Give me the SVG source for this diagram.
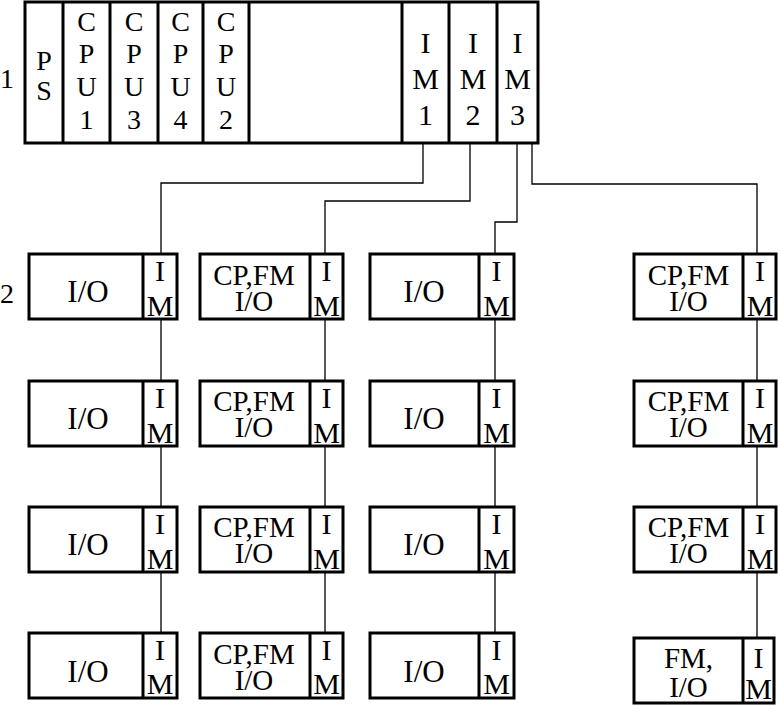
<svg xmlns="http://www.w3.org/2000/svg" width="778" height="706" viewBox="0 0 778 706">
<style>
.box{fill:#fff;stroke:#000;stroke-width:3}
.div{stroke:#000;stroke-width:3}
.con{fill:none;stroke:#000;stroke-width:1.3}
text{font-family:"Liberation Serif","Times New Roman",serif;fill:#000;text-anchor:middle}
.t{font-size:28px}
.m{font-size:30px}
.io{font-size:31px}
.cp{font-size:29px}
.lbl{font-size:28px;text-anchor:start}
</style>
<rect width="778" height="706" fill="#fff"/>
<text class="lbl" x="0" y="88">1</text>
<text class="lbl" x="0" y="303">2</text>

<g id="connectors">
<path class="con" d="M423,143 V183 H161 V254"/>
<path class="con" d="M470,143 V201 H325 V254"/>
<path class="con" d="M517,143 V222 H495 V254"/>
<path class="con" d="M532,143 V184 H757 V254"/>
<path class="con" d="M161,319 V381 M161,446 V507 M161,572 V633"/>
<path class="con" d="M325,319 V381 M325,446 V507 M325,572 V633"/>
<path class="con" d="M495,319 V381 M495,446 V507 M495,572 V633"/>
<path class="con" d="M757,319 V381 M757,446 V507 M757,572 V638"/>
</g>

<g id="rack">
<rect class="box" x="25" y="2" width="513" height="141"/>
<path class="div" d="M63,2V143M110,2V143M158,2V143M203,2V143M249,2V143M402,2V143M449,2V143M497,2V143"/>
<g id="ps" class="t"><text x="44" y="70">P</text><text x="44" y="100">S</text></g>
<g id="cpu1" class="t"><text x="86.5" y="31">C</text><text x="86.5" y="63">P</text><text x="86.5" y="96">U</text><text x="86.5" y="129">1</text></g>
<g id="cpu3" class="t"><text x="134" y="31">C</text><text x="134" y="63">P</text><text x="134" y="96">U</text><text x="134" y="129">3</text></g>
<g id="cpu4" class="t"><text x="180.5" y="31">C</text><text x="180.5" y="63">P</text><text x="180.5" y="96">U</text><text x="180.5" y="129">4</text></g>
<g id="cpu2" class="t"><text x="226" y="31">C</text><text x="226" y="63">P</text><text x="226" y="96">U</text><text x="226" y="129">2</text></g>
<g id="im1" class="m"><text x="425.5" y="53">I</text><text x="425.5" y="89">M</text><text x="425.5" y="125">1</text></g>
<g id="im2" class="m"><text x="473" y="53">I</text><text x="473" y="89">M</text><text x="473" y="125">2</text></g>
<g id="im3" class="m"><text x="517.5" y="53">I</text><text x="517.5" y="89">M</text><text x="517.5" y="125">3</text></g>
</g>

<g id="c1r1"><rect class="box" x="29" y="254" width="148" height="65"/><path class="div" d="M143,254V319"/><text class="io" x="88" y="302">I/O</text><text class="m" x="160" y="281">I</text><text class="m" x="160" y="316">M</text></g>
<g id="c1r2"><rect class="box" x="29" y="381" width="148" height="65"/><path class="div" d="M143,381V446"/><text class="io" x="88" y="429">I/O</text><text class="m" x="160" y="408">I</text><text class="m" x="160" y="443">M</text></g>
<g id="c1r3"><rect class="box" x="29" y="507" width="148" height="65"/><path class="div" d="M143,507V572"/><text class="io" x="88" y="555">I/O</text><text class="m" x="160" y="534">I</text><text class="m" x="160" y="569">M</text></g>
<g id="c1r4"><rect class="box" x="29" y="633" width="148" height="65"/><path class="div" d="M143,633V698"/><text class="io" x="88" y="682">I/O</text><text class="m" x="160" y="660">I</text><text class="m" x="160" y="694">M</text></g>

<g id="c2r1"><rect class="box" x="200" y="254" width="143" height="65"/><path class="div" d="M310,254V319"/><text class="cp" x="254" y="285">CP,FM</text><text class="cp" x="254" y="311">I/O</text><text class="m" x="326.5" y="281">I</text><text class="m" x="326.5" y="316">M</text></g>
<g id="c2r2"><rect class="box" x="200" y="381" width="143" height="65"/><path class="div" d="M310,381V446"/><text class="cp" x="254" y="411">CP,FM</text><text class="cp" x="254" y="437">I/O</text><text class="m" x="326.5" y="408">I</text><text class="m" x="326.5" y="443">M</text></g>
<g id="c2r3"><rect class="box" x="200" y="507" width="143" height="65"/><path class="div" d="M310,507V572"/><text class="cp" x="254" y="537">CP,FM</text><text class="cp" x="254" y="563">I/O</text><text class="m" x="326.5" y="534">I</text><text class="m" x="326.5" y="569">M</text></g>
<g id="c2r4"><rect class="box" x="200" y="633" width="143" height="65"/><path class="div" d="M310,633V698"/><text class="cp" x="254" y="664">CP,FM</text><text class="cp" x="254" y="690">I/O</text><text class="m" x="326.5" y="660">I</text><text class="m" x="326.5" y="694">M</text></g>

<g id="c3r1"><rect class="box" x="370" y="254" width="144" height="65"/><path class="div" d="M479,254V319"/><text class="io" x="424" y="302">I/O</text><text class="m" x="496.5" y="281">I</text><text class="m" x="496.5" y="316">M</text></g>
<g id="c3r2"><rect class="box" x="370" y="381" width="144" height="65"/><path class="div" d="M479,381V446"/><text class="io" x="424" y="429">I/O</text><text class="m" x="496.5" y="408">I</text><text class="m" x="496.5" y="443">M</text></g>
<g id="c3r3"><rect class="box" x="370" y="507" width="144" height="65"/><path class="div" d="M479,507V572"/><text class="io" x="424" y="555">I/O</text><text class="m" x="496.5" y="534">I</text><text class="m" x="496.5" y="569">M</text></g>
<g id="c3r4"><rect class="box" x="370" y="633" width="144" height="65"/><path class="div" d="M479,633V698"/><text class="io" x="424" y="682">I/O</text><text class="m" x="496.5" y="660">I</text><text class="m" x="496.5" y="694">M</text></g>

<g id="c4r1"><rect class="box" x="634" y="254" width="142" height="65"/><path class="div" d="M743,254V319"/><text class="cp" x="688.5" y="285">CP,FM</text><text class="cp" x="688.5" y="311">I/O</text><text class="m" x="760" y="281">I</text><text class="m" x="760" y="316">M</text></g>
<g id="c4r2"><rect class="box" x="634" y="381" width="142" height="65"/><path class="div" d="M743,381V446"/><text class="cp" x="688.5" y="411">CP,FM</text><text class="cp" x="688.5" y="437">I/O</text><text class="m" x="760" y="408">I</text><text class="m" x="760" y="443">M</text></g>
<g id="c4r3"><rect class="box" x="634" y="507" width="142" height="65"/><path class="div" d="M743,507V572"/><text class="cp" x="688.5" y="537">CP,FM</text><text class="cp" x="688.5" y="563">I/O</text><text class="m" x="760" y="534">I</text><text class="m" x="760" y="569">M</text></g>
<g id="c4r4"><rect class="box" x="634" y="638" width="140" height="65"/><path class="div" d="M743,638V703"/><text class="cp" x="688.5" y="668">FM,</text><text class="cp" x="688.5" y="697">I/O</text><text class="m" x="758.5" y="668">I</text><text class="m" x="758.5" y="699">M</text></g>
</svg>
